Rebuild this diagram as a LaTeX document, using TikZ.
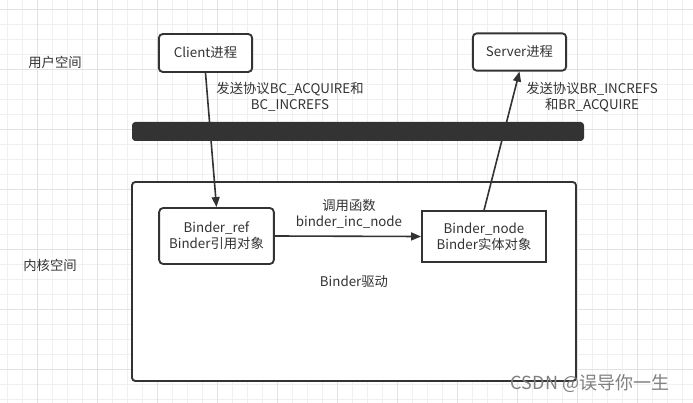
\documentclass[tikz,border=0pt]{standalone}
\usepackage{fontspec}
\setmainfont{Noto Sans CJK SC}
\usetikzlibrary{arrows.meta}
\definecolor{ink}{HTML}{333333}
\definecolor{gridminor}{HTML}{F0F0F0}
\definecolor{gridmajor}{HTML}{E2E2E2}
\tikzset{
  box/.style={draw=ink, line width=1.4pt, fill=white, minimum width=#1, inner sep=0pt, align=center, text=ink},
  lbl/.style={align=center, text=ink, inner sep=0pt},
  conn/.style={draw=ink, line width=1.2pt, -{Triangle[length=7.5pt,width=6pt]}},
}
\begin{document}
\begin{tikzpicture}[x=0.75pt,y=-0.75pt,font=\fontsize{10}{12}\selectfont]
\useasboundingbox (0,0) rectangle (693,403);
\fill[white] (0,0) rectangle (693,403);
% grid
\foreach \i in {0,...,45} {
  \pgfmathtruncatemacro{\xx}{7+15*\i}
  \draw[gridminor, line width=0.7pt] (\xx,0) -- (\xx,403);
}
\foreach \i in {0,...,26} {
  \pgfmathtruncatemacro{\yy}{9+15*\i}
  \draw[gridminor, line width=0.7pt] (0,\yy) -- (693,\yy);
}
\foreach \i in {0,...,11} {
  \pgfmathtruncatemacro{\xx}{37+60*\i}
  \draw[gridmajor, line width=0.7pt] (\xx,0) -- (\xx,403);
}
\foreach \i in {0,...,6} {
  \pgfmathtruncatemacro{\yy}{9+60*\i}
  \draw[gridmajor, line width=0.7pt] (0,\yy) -- (693,\yy);
}
% kernel box
\draw[ink, line width=1.4pt, rounded corners=2.5pt, fill=white] (132,182) rectangle (576,381);
% separator bar
\fill[ink, rounded corners=2.5pt] (132,122) rectangle (584,141);
% nodes
\node[box=70pt, minimum height=28.5pt, rounded corners=3pt] (client) at (205.5,53) {Client进程};
\node[box=70pt, minimum height=28pt, rounded corners=3pt] (server) at (519.5,52) {Server进程};
\node[box=86pt, minimum height=42pt, rounded corners=3pt] (ref) at (216.5,236) {Binder\_ref\\Binder引用对象};
\node[box=93pt, minimum height=38pt] (bnode) at (484,236.5) {Binder\_node\\Binder实体对象};
% labels
\node[lbl] (user) at (55,62) {用户空间};
\node[lbl] (kern) at (50,265) {内核空间};
\node[lbl] (drv) at (354,282) {Binder驱动};
\node[lbl] (l1) at (290,97) {发送协议BC\_ACQUIRE和\\BC\_INCREFS};
\node[lbl] (l2) at (592,97) {发送协议BR\_INCREFS\\和BR\_ACQUIRE};
\node[lbl] (l3) at (349,214) {调用函数\\binder\_inc\_node};
% connectors
\draw[conn] (client.south) -- (ref.north);
\draw[conn] (bnode.north) -- (server.south);
\draw[conn] (ref.east) -- (bnode.west);
% watermark
\node[text=black!50, inner sep=0pt, font=\fontsize{13.5}{15}\selectfont] (wm) at (590,383) {CSDN @误导你一生};
\end{tikzpicture}
\end{document}
